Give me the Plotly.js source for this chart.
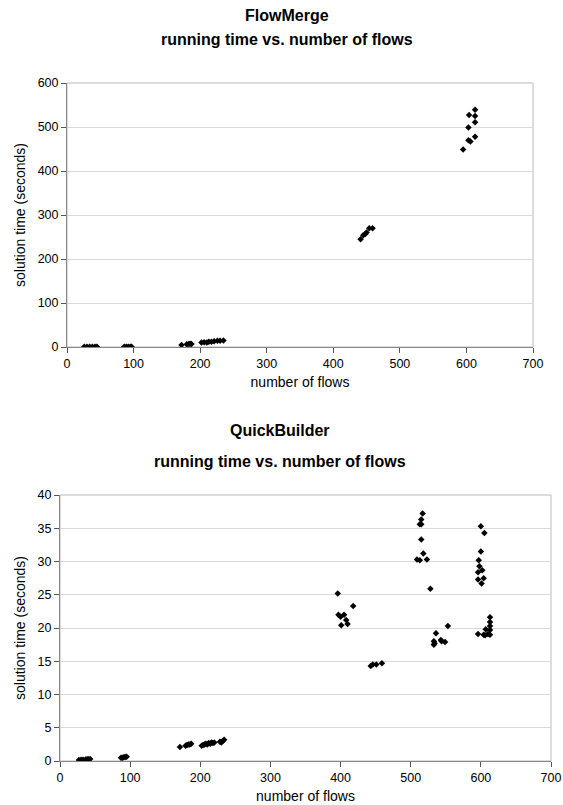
<!DOCTYPE html>
<html>
<head>
<meta charset="utf-8">
<script src="https://cdn.plot.ly/plotly-3.0.1.min.js"></script>
<style>html,body{margin:0;padding:0;background:#fff;}#chart{width:563px;height:805px;}</style>
</head>
<body>
<div id="chart"></div>
<script>
// FlowMerge: number of flows vs solution time (seconds)
const flowMergeFlows = [26, 30, 34, 38, 42, 45,
  86, 89, 92, 95, 97,
  172, 180, 183, 185, 187,
  202, 206, 210, 213, 217, 221, 226, 230, 235,
  441, 445, 448, 450, 454, 459,
  595, 603, 606, 603, 613, 613, 604, 613, 613];
const flowMergeTimes = [0.3, 0.3, 0.3, 0.3, 0.3, 0.3,
  0.8, 0.8, 0.8, 0.8, 0.8,
  4.5, 6, 7, 7.5, 7,
  10, 11, 10, 12, 12, 13, 14, 14, 15,
  245, 254, 257, 260, 270, 270,
  449, 470, 467, 499, 478, 511, 527, 525, 539];

// QuickBuilder: number of flows vs solution time (seconds)
const quickFlows = [27, 30, 33, 37, 40, 43,
  87, 89, 91, 93, 95,
  171, 179, 181, 183, 185, 187,
  202, 204, 206, 208, 210, 212, 214, 216, 218, 220, 228, 230, 232, 234,
  396, 397, 400, 401, 405, 408, 410, 418,
  443, 446, 451, 459,
  509, 513, 513, 515, 515, 515, 517, 518, 523, 528,
  533, 533, 534, 536, 543, 544, 549, 553,
  596, 596, 597, 598, 600, 600, 601, 602, 604, 605,
  596, 604, 606, 607, 610, 613, 613, 613, 613, 613];
const quickTimes = [0.15, 0.2, 0.2, 0.25, 0.3, 0.3,
  0.5, 0.5, 0.55, 0.6, 0.65,
  2.1, 2.3, 2.4, 2.5, 2.5, 2.6,
  2.3, 2.4, 2.5, 2.6, 2.5, 2.7, 2.6, 2.8, 2.7, 2.8, 2.9, 2.8, 3.0, 3.2,
  25.2, 22.0, 21.7, 20.4, 22.0, 21.2, 20.6, 23.3,
  14.3, 14.5, 14.5, 14.7,
  30.3, 30.2, 35.6, 36.3, 35.6, 33.3, 37.2, 31.2, 30.3, 25.9,
  17.5, 18.0, 17.7, 19.2, 18.2, 18.0, 17.9, 20.3,
  28.4, 27.3, 30.2, 29.3, 35.3, 31.5, 26.7, 28.7, 27.5, 34.3,
  19.1, 19.0, 18.9, 19.8, 19.1, 21.6, 20.9, 20.3, 19.7, 19.0];

const xTicks = [0, 100, 200, 300, 400, 500, 600, 700];
const yTicksTop = [0, 100, 200, 300, 400, 500, 600];
const yTicksBottom = [0, 5, 10, 15, 20, 25, 30, 35, 40];

const FONT = 'Liberation Sans, Arial, sans-serif';
const marker = {symbol: 'diamond', size: 5, color: '#000'};

const traces = [
  {x: flowMergeFlows, y: flowMergeTimes, type: 'scatter', mode: 'markers', marker: marker, xaxis: 'x', yaxis: 'y', hoverinfo: 'x+y'},
  {x: quickFlows, y: quickTimes, type: 'scatter', mode: 'markers', marker: marker, xaxis: 'x2', yaxis: 'y2', hoverinfo: 'x+y'}
];

function xAxis(domain, anchor) {
  return {
    domain: domain, anchor: anchor, range: [0, 700], tickvals: xTicks,
    ticks: 'outside', ticklen: 5, tickcolor: '#555', tickwidth: 1,
    showline: true, linecolor: '#888', linewidth: 1, mirror: false,
    showgrid: false, zeroline: false,
    tickfont: {family: FONT, size: 12.5, color: '#000'},
    title: {text: 'number of flows', font: {family: FONT, size: 14, color: '#000'}, standoff: 7}
  };
}
function yAxis(domain, anchor, range, ticks) {
  return {
    domain: domain, anchor: anchor, range: range, tickvals: ticks,
    ticks: 'outside', ticklen: 5, tickcolor: '#555', tickwidth: 1,
    showline: true, linecolor: '#888', linewidth: 1, mirror: false,
    showgrid: true, gridcolor: '#d9d9d9', gridwidth: 1, zeroline: false,
    tickfont: {family: FONT, size: 12.5, color: '#000'},
    title: {text: 'solution time (seconds)', font: {family: FONT, size: 14, color: '#000'}, standoff: 8}
  };
}

const W = 563, H = 805;
function titleLine(text, xc, yc) {
  return {text: '<b>' + text + '</b>', xref: 'paper', yref: 'paper', x: xc / W, y: (H - yc) / H,
    showarrow: false, xanchor: 'center', yanchor: 'middle', font: {family: FONT, size: 16, color: '#000'}};
}
const layout = {
  width: W, height: H,
  margin: {l: 0, r: 0, t: 0, b: 0},
  paper_bgcolor: '#fff', plot_bgcolor: '#fff',
  showlegend: false,
  xaxis: xAxis([67 / W, 533 / W], 'y'),
  yaxis: yAxis([(H - 347) / H, (H - 83) / H], 'x', [0, 600], yTicksTop),
  xaxis2: xAxis([60 / W, 551 / W], 'y2'),
  yaxis2: yAxis([(H - 761) / H, (H - 495) / H], 'x2', [0, 40], yTicksBottom),
  shapes: [
    {type: 'rect', xref: 'paper', yref: 'paper', x0: 67 / W, x1: 533 / W, y0: (H - 347) / H, y1: (H - 83) / H, line: {color: '#bbb', width: 1}, layer: 'below'},
    {type: 'rect', xref: 'paper', yref: 'paper', x0: 60 / W, x1: 551 / W, y0: (H - 761) / H, y1: (H - 495) / H, line: {color: '#bbb', width: 1}, layer: 'below'}
  ],
  annotations: [
    titleLine('FlowMerge', 287, 16),
    titleLine('running time vs. number of flows', 287, 40),
    titleLine('QuickBuilder', 280, 431),
    titleLine('running time vs. number of flows', 280, 461)
  ]
};

Plotly.newPlot('chart', traces, layout, {displayModeBar: false, staticPlot: true});
</script>
</body>
</html>
